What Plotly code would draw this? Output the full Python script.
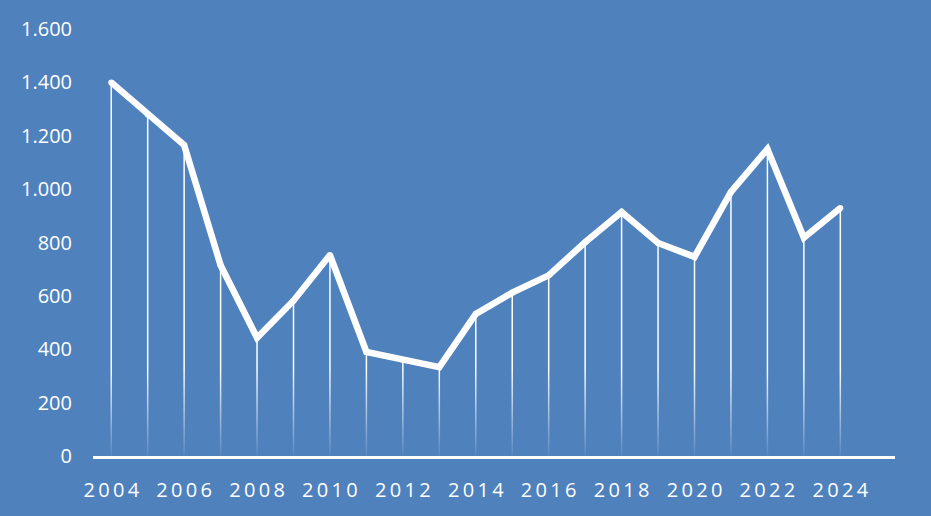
import plotly.graph_objects as go

# yearly values
years = list(range(2004, 2025))
values = [1400, 1280, 1165, 715, 443, 582, 753, 390, 360, 333, 532,
          612, 677, 801, 914, 798, 746, 990, 1150, 818, 929]

tick_years = list(range(2004, 2025, 2))
tick_text = ["\u2009".join(str(y)) for y in tick_years]
y_ticks = [0, 200, 400, 600, 800, 1000, 1200, 1400, 1600]

bg = "#4f81bd"
font = dict(family="Open Sans", size=20, color="white")

# vertical drop lines from each point to the baseline
drop_x, drop_y = [], []
for yr, v in zip(years, values):
    drop_x += [yr, yr, None]
    drop_y += [0, v, None]

fig = go.Figure()

fig.add_trace(go.Scatter(
    x=drop_x, y=drop_y, mode="lines",
    line=dict(color="white", width=1.5),
    hoverinfo="skip", showlegend=False,
))

# fade the drop lines out towards the bottom
fig.add_trace(go.Scatter(
    x=[2003.5, 2025.5, 2025.5, 2003.5, 2003.5],
    y=[0, 0, 330, 330, 0],
    mode="none", fill="toself",
    fillgradient=dict(type="vertical",
                      colorscale=[[0, "rgba(79,129,189,0.95)"],
                                  [1, "rgba(79,129,189,0)"]]),
    hoverinfo="skip", showlegend=False,
))

fig.add_trace(go.Scatter(
    x=years, y=values, mode="lines+markers",
    line=dict(color="white", width=6.5),
    marker=dict(color="white", size=6),
    showlegend=False,
))

fig.update_layout(
    width=931, height=516,
    paper_bgcolor=bg, plot_bgcolor=bg,
    margin=dict(l=93, r=36, t=29, b=60),
    separators=",.",
    font=font,
)
fig.update_xaxes(
    range=[2003.5, 2025.5],
    tickvals=tick_years, ticktext=tick_text,
    showgrid=False, zeroline=False,
    showline=True, linecolor="white", linewidth=3,
    ticks="", ticklabelstandoff=14,
)
fig.update_yaxes(
    range=[0, 1600], tickvals=y_ticks, tickformat=",d",
    showgrid=False, zeroline=False, showline=False,
    ticks="", ticklabelstandoff=20,
)

fig.write_html("out.html", config={"displayModeBar": False},
               post_script="document.body.style.margin='0';")
